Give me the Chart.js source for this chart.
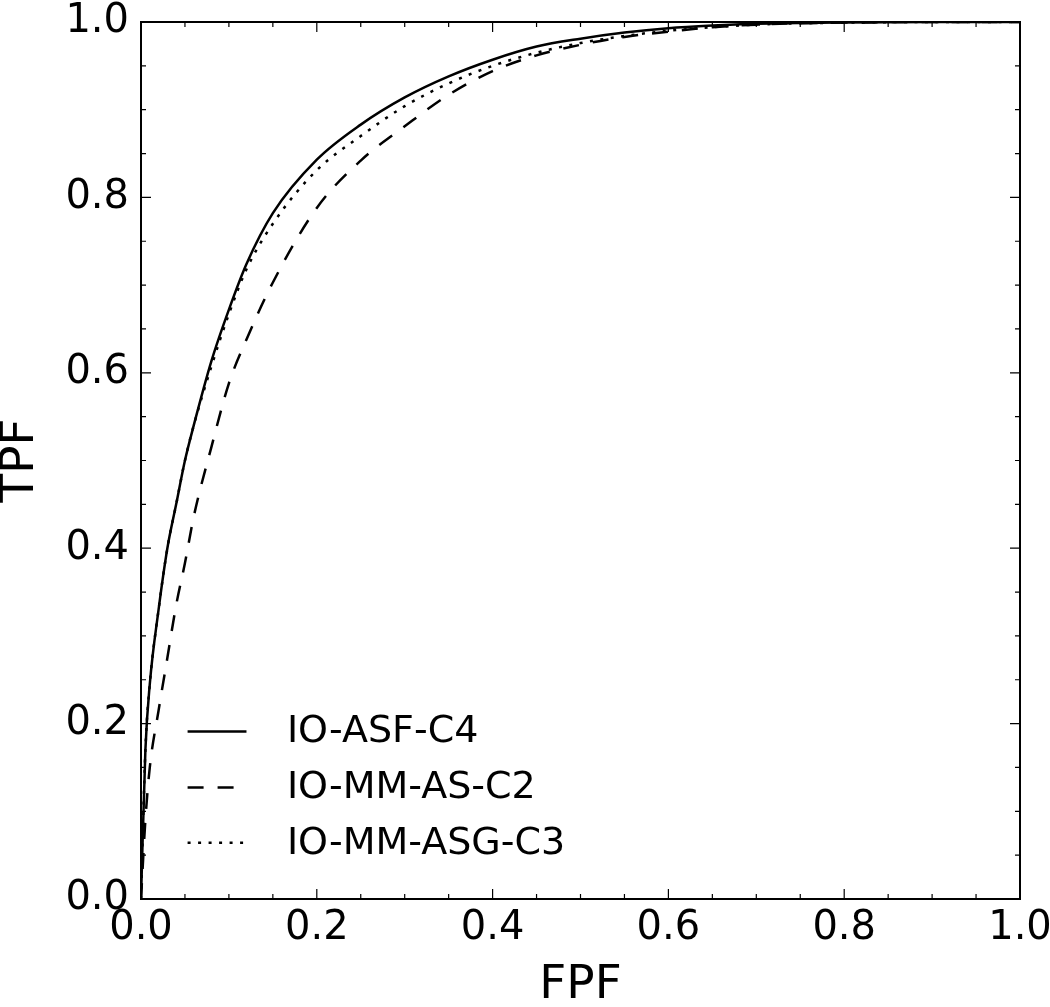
<!DOCTYPE html>
<html>
<head>
<meta charset="utf-8">
<script src="https://cdn.jsdelivr.net/npm/chart.js@4/dist/chart.umd.min.js"></script>
<style>
html,body{margin:0;padding:0;background:#fff;}
#wrap{width:1050px;height:1007px;}
</style>
</head>
<body>
<div id="wrap"><canvas id="c" width="1050" height="1007"></canvas></div>
<script>
const seriesLabels = ['IO-ASF-C4', 'IO-MM-AS-C2', 'IO-MM-ASG-C3'];
const fpf = [0, 0.005, 0.01, 0.02, 0.03, 0.04, 0.05, 0.06, 0.08, 0.10, 0.12, 0.15, 0.20, 0.25, 0.30, 0.35, 0.40, 0.45, 0.50, 0.55, 0.60, 0.65, 0.70, 0.80, 0.90, 1.0];
const tpfASF = [0, 0.17, 0.245, 0.33, 0.40, 0.45, 0.50, 0.54, 0.613, 0.672, 0.724, 0.782, 0.843, 0.883, 0.914, 0.938, 0.957, 0.972, 0.981, 0.988, 0.993, 0.996, 0.998, 0.9995, 1.0, 1.0];
const tpfMMAS = [0, 0.09, 0.15, 0.215, 0.275, 0.335, 0.383, 0.436, 0.515, 0.588, 0.638, 0.703, 0.788, 0.842, 0.881, 0.917, 0.944, 0.962, 0.974, 0.983, 0.989, 0.994, 0.997, 0.9993, 1.0, 1.0];
const tpfMMASG = [0, 0.17, 0.245, 0.33, 0.40, 0.45, 0.50, 0.54, 0.607, 0.667, 0.718, 0.770, 0.831, 0.870, 0.904, 0.930, 0.950, 0.965, 0.976, 0.984, 0.990, 0.994, 0.997, 0.9993, 1.0, 1.0];
const majorTicks = [0.0, 0.2, 0.4, 0.6, 0.8, 1.0];
const minorStep = 0.05;
const xTitle = 'FPF';
const yTitle = 'TPF';

const FONT = 'DejaVu Sans';
const pts = (ys) => fpf.map((x, i) => ({x: x, y: ys[i]}));
const dashes = [[], [16, 14], [3, 7.5]];

const frameTicks = {
  id: 'frameTicks',
  afterDatasetsDraw(chart) {
    const {ctx, chartArea: a, scales} = chart;
    const xs = scales.x, ys = scales.y;
    ctx.save();
    ctx.strokeStyle = '#000';
    ctx.lineWidth = 1.2;
    ctx.setLineDash([]);
    const n = Math.round(1 / minorStep);
    for (let i = 0; i <= n; i++) {
      const v = i * minorStep;
      const isMajor = majorTicks.some(m => Math.abs(m - v) < 1e-9);
      const len = isMajor ? 10 : 5;
      const px = xs.getPixelForValue(v);
      const py = ys.getPixelForValue(v);
      ctx.beginPath();
      ctx.moveTo(px, a.bottom); ctx.lineTo(px, a.bottom - len);
      ctx.moveTo(px, a.top); ctx.lineTo(px, a.top + len);
      ctx.moveTo(a.left, py); ctx.lineTo(a.left + len, py);
      ctx.moveTo(a.right, py); ctx.lineTo(a.right - len, py);
      ctx.stroke();
    }
    ctx.lineWidth = 2;
    ctx.strokeRect(a.left, a.top, a.right - a.left, a.bottom - a.top);
    // legend
    const lx0 = xs.getPixelForValue(0.053), lx1 = xs.getPixelForValue(0.12);
    const tx = xs.getPixelForValue(0.166);
    const rowY = [ys.getPixelForValue(0.191), ys.getPixelForValue(0.127), ys.getPixelForValue(0.064)];
    chart.data.datasets.forEach((ds, i) => {
      ctx.beginPath();
      ctx.setLineDash(ds.borderDash || []);
      ctx.lineWidth = ds.borderWidth;
      ctx.lineCap = 'butt';
      ctx.moveTo(lx0, rowY[i]); ctx.lineTo(lx1, rowY[i]);
      ctx.stroke();
      ctx.setLineDash([]);
      ctx.fillStyle = '#000';
      ctx.font = '38px "' + FONT + '"';
      ctx.textBaseline = 'middle';
      ctx.textAlign = 'left';
      ctx.fillText(ds.label, tx, rowY[i] + 1);
    });
    ctx.restore();
  }
};

new Chart(document.getElementById('c'), {
  type: 'scatter',
  data: {
    datasets: [
      {label: seriesLabels[0], data: pts(tpfASF), borderColor: '#000', borderWidth: 2.5, borderDash: dashes[0]},
      {label: seriesLabels[1], data: pts(tpfMMAS), borderColor: '#000', borderWidth: 2.5, borderDash: dashes[1]},
      {label: seriesLabels[2], data: pts(tpfMMASG), borderColor: '#000', borderWidth: 2.5, borderDash: dashes[2]}
    ].map(d => Object.assign(d, {showLine: true, pointRadius: 0, cubicInterpolationMode: 'monotone', fill: false}))
  },
  options: {
    responsive: false,
    animation: false,
    devicePixelRatio: 1,
    layout: {padding: {top: 22, right: 30, left: 0, bottom: 0}},
    plugins: {legend: {display: false}, tooltip: {enabled: false}},
    scales: {
      x: {
        type: 'linear', min: 0, max: 1,
        afterFit: (s) => { s.height = 108; s.paddingLeft = 0; s.paddingRight = 0; },
        afterBuildTicks: (s) => { s.ticks = majorTicks.map(v => ({value: v})); },
        grid: {display: false, drawTicks: false},
        border: {display: false},
        ticks: {color: '#000', font: {family: FONT, size: 40}, padding: 6, maxRotation: 0, callback: v => v.toFixed(1)},
        title: {display: true, text: xTitle, color: '#000', font: {family: FONT, size: 47, lineHeight: 0.9}, padding: {top: 0, bottom: 0}}
      },
      y: {
        type: 'linear', min: 0, max: 1,
        afterFit: (s) => { s.width = 141; s.paddingTop = 0; s.paddingBottom = 0; },
        afterBuildTicks: (s) => { s.ticks = majorTicks.map(v => ({value: v})); },
        grid: {display: false, drawTicks: false},
        border: {display: false},
        ticks: {color: '#000', font: {family: FONT, size: 40}, padding: 12, callback: v => v.toFixed(1)},
        title: {display: true, text: yTitle, color: '#000', font: {family: FONT, size: 47, lineHeight: 0.9}, padding: {top: 0, bottom: 0}}
      }
    }
  },
  plugins: [frameTicks]
});
</script>
</body>
</html>
